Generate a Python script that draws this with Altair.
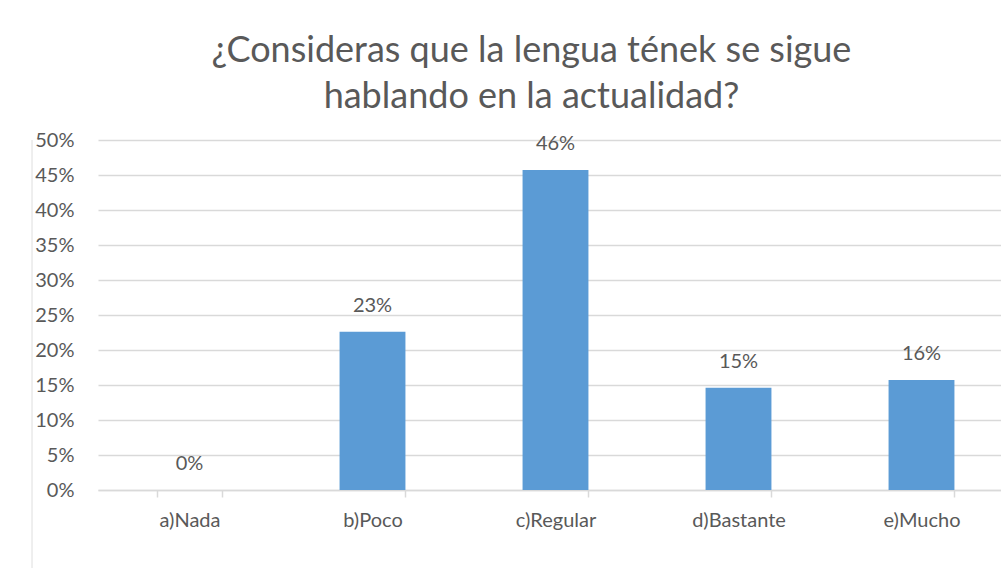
import altair as alt
import pandas as pd

categories = ["a)Nada", "b)Poco", "c)Regular", "d)Bastante", "e)Mucho"]
values = [0.0, 0.226, 0.457, 0.146, 0.157]
title_lines = ["¿Consideras que la lengua tének se sigue", "hablando en la actualidad?"]
y_ticks = [0, 0.05, 0.10, 0.15, 0.20, 0.25, 0.30, 0.35, 0.40, 0.45, 0.50]

df = pd.DataFrame({"cat": categories, "val": values})

FONT = "Lato"
TXT = "#595959"
GRID = "#D9D9D9"

x = alt.X(
    "cat:N",
    sort=categories,
    title=None,
    scale=alt.Scale(range=[0, 915], paddingInner=0.64, paddingOuter=0.32),
    axis=alt.Axis(
        labelAngle=0,
        labelFont=FONT,
        labelFontSize=20,
        labelColor=TXT,
        labelPadding=13,
        domainColor=GRID,
        domainWidth=1.5,
        tickColor=GRID,
        tickWidth=1.5,
        tickSize=7,
        tickBand="extent",
        grid=False,
    ),
)
y = alt.Y(
    "val:Q",
    title=None,
    scale=alt.Scale(domain=[0, 0.5], nice=False),
    axis=alt.Axis(
        values=y_ticks,
        format=".0%",
        labelFont=FONT,
        labelFontSize=20,
        labelColor=TXT,
        labelPadding=24,
        labelOverlap=False,
        ticks=False,
        domain=False,
        gridColor=GRID,
        gridWidth=1.5,
    ),
)

bars = alt.Chart(df).mark_bar(color="#5B9BD5").encode(x=x, y=y)
labels = alt.Chart(df).mark_text(
    font=FONT, fontSize=20, color=TXT, baseline="alphabetic", dy=-20
).encode(x=x, y=y, text=alt.Text("val:Q", format=".0%"))

frame = alt.Chart(df).mark_rule(color="#EEEEEE", strokeWidth=1).encode(
    x=alt.value(-66), y=alt.value(0), y2=alt.value(430)
)

chart = (
    alt.layer(frame, bars, labels)
    .properties(
        width=903,
        height=350,
        autosize=alt.AutoSizeParams(type="none"),
        padding={"left": 98, "top": 140, "right": 0, "bottom": 78},
        title=alt.TitleParams(
            text=title_lines,
            font=FONT,
            fontSize=36,
            fontWeight="normal",
            color=TXT,
            anchor="middle",
            dx=-18,
            offset=14,
            lineHeight=46,
        ),
    )
    .configure_view(stroke=None)
)

chart.save("out.html", embed_options={"renderer": "svg", "actions": False})
